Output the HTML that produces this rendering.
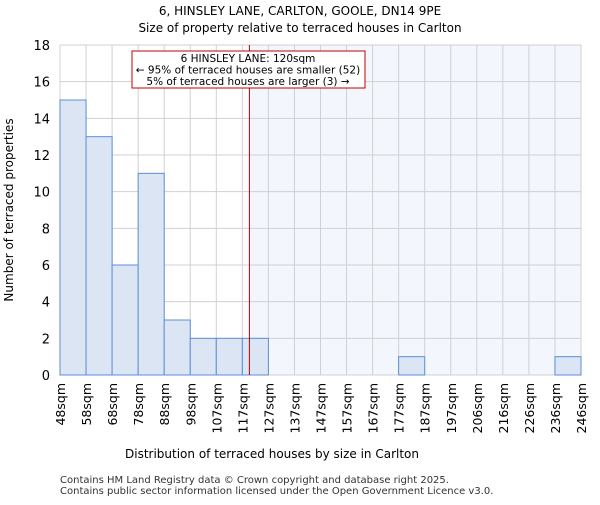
<!DOCTYPE html>
<html><head><meta charset="utf-8"><style>
body{margin:0;background:#fff;font-family:"Liberation Sans","DejaVu Sans",sans-serif;}
svg text{font-family:"DejaVu Sans","Liberation Sans",sans-serif;}
</style></head><body>
<svg id="c" width="600" height="500" xmlns="http://www.w3.org/2000/svg">
<text x="300" y="15" text-anchor="middle" font-size="12">6, HINSLEY LANE, CARLTON, GOOLE, DN14 9PE</text>
<text x="300" y="32" text-anchor="middle" font-size="12">Size of property relative to terraced houses in Carlton</text>
<g id="grid"></g><g id="bars"></g><g id="axes"></g>
<text x="272" y="458" text-anchor="middle" font-size="12">Distribution of terraced houses by size in Carlton</text>
<text transform="translate(13,210) rotate(-90)" text-anchor="middle" font-size="12">Number of terraced properties</text>
<text x="60" y="483" font-size="10" fill="#333">Contains HM Land Registry data © Crown copyright and database right 2025.</text>
<text x="60" y="494" font-size="10" fill="#333">Contains public sector information licensed under the Open Government Licence v3.0.</text>
</svg>
<script>
const categories=["48sqm","58sqm","68sqm","78sqm","88sqm","98sqm","107sqm","117sqm","127sqm","137sqm","147sqm","157sqm","167sqm","177sqm","187sqm","197sqm","206sqm","216sqm","226sqm","236sqm","246sqm"];
const counts=[15,13,6,11,3,2,2,2,0,0,0,0,0,1,0,0,0,0,0,1];
const yTicks=[0,2,4,6,8,10,12,14,16,18];
const subjectBinPos=[7.27];
const NS="http://www.w3.org/2000/svg";
const L=60,R=581,T=45,B=375,n=counts.length;
const x=i=>L+i*(R-L)/n;
const y=v=>B-v*(B-T)/18;
function mk(tag,attrs,parent){const e=document.createElementNS(NS,tag);for(const k in attrs)e.setAttribute(k,attrs[k]);parent.appendChild(e);return e;}
const grid=document.getElementById('grid'),bars=document.getElementById('bars'),axes=document.getElementById('axes');
const mx=x(subjectBinPos[0]);
const shade=mk('rect',{x:mx,y:T,width:R-mx,height:B-T,fill:'#f3f6fd'},grid);


for(let i=0;i<=n;i++){const g=mk('line',{x1:x(i),x2:x(i),y1:T,y2:B,stroke:'#d0d0d0'},grid);

}
yTicks.forEach(v=>{const g=mk('line',{x1:L,x2:R,y1:y(v),y2:y(v),stroke:'#d0d0d0'},grid);


const t=mk('text',{x:L-10,y:y(v)+5,'text-anchor':'end','font-size':13},axes);t.textContent=v;

});
counts.forEach((c,i)=>{if(c<=0)return;const r=mk('rect',{x:x(i),y:y(c),width:x(i+1)-x(i),height:B-y(c),fill:'#dce5f4',stroke:'#5b8fd6','stroke-width':1},bars);

});
categories.forEach((c,i)=>{const t=mk('text',{transform:`translate(${x(i)+5},383) rotate(-90)`,'text-anchor':'end','font-size':12.5},axes);t.textContent=c;

});
const ml=mk('line',{x1:mx,x2:mx,y1:T,y2:B,stroke:'#b00000','stroke-width':1},axes);


const box=mk('rect',{x:132,y:51,width:233,height:37,fill:'#fff',stroke:'#c00000'},axes);


["6 HINSLEY LANE: 120sqm","← 95% of terraced houses are smaller (52)","5% of terraced houses are larger (3) →"].forEach((s,k)=>{const t=mk('text',{x:248,y:62+k*11.5,'text-anchor':'middle','font-size':10.5},axes);t.textContent=s;

});
</script>
</body></html>
